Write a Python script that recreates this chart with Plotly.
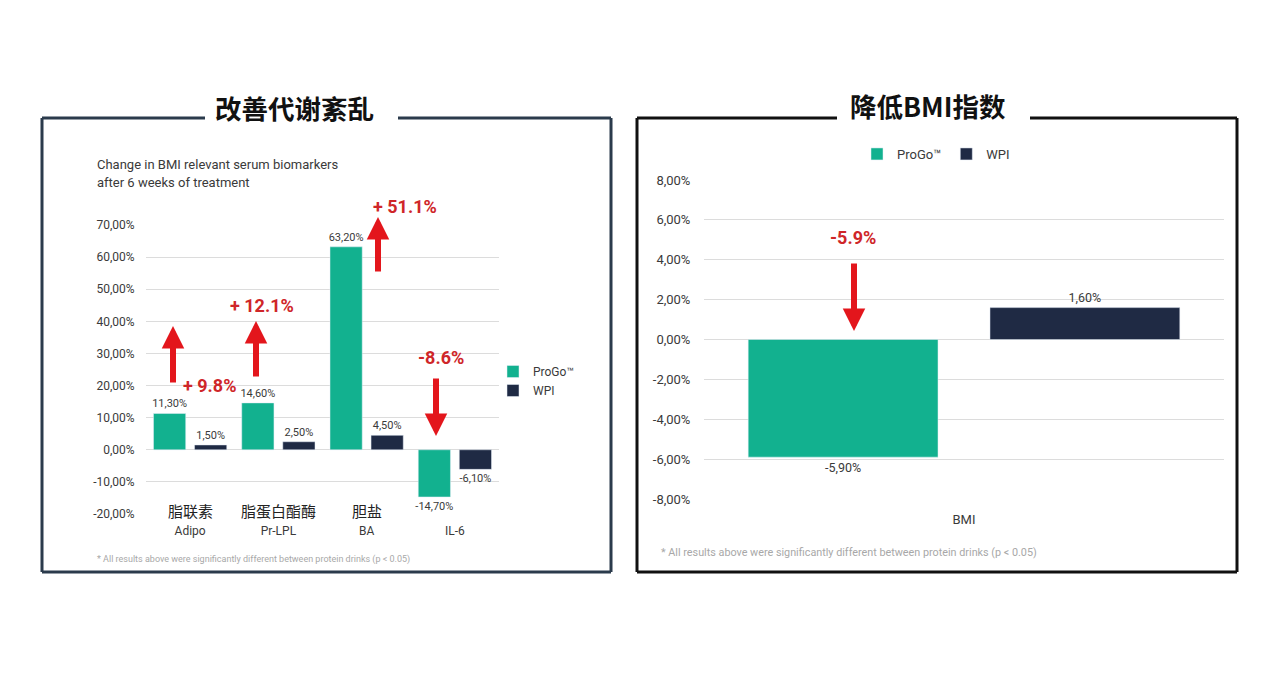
import plotly.graph_objects as go

# ---------------- data ----------------
left_categories = ["Adipo", "Pr-LPL", "BA", "IL-6"]
left_categories_cn = ["脂联素", "脂蛋白酯酶", "胆盐", ""]
left_progo = [11.3, 14.6, 63.2, -14.7]
left_wpi = [1.5, 2.5, 4.5, -6.1]
left_tickvals = [-20, -10, 0, 10, 20, 30, 40, 50, 60, 70]
left_ticktext = ["-20,00%", "-10,00%", "0,00%", "10,00%", "20,00%", "30,00%",
                 "40,00%", "50,00%", "60,00%", "70,00%"]
left_diffs = ["+ 9.8%", "+ 12.1%", "+ 51.1%", "-8.6%"]

right_categories = ["BMI"]
right_progo = [-5.9]
right_wpi = [1.6]
right_tickvals = [-8, -6, -4, -2, 0, 2, 4, 6, 8]
right_ticktext = ["-8,00%", "-6,00%", "-4,00%", "-2,00%", "0,00%", "2,00%",
                  "4,00%", "6,00%", "8,00%"]
right_diffs = ["-5.9%"]

series_names = ["ProGo™", "WPI"]
left_title = "改善代谢紊乱"
right_title = "降低BMI指数"
subtitle_lines = ["Change in BMI relevant serum biomarkers", "after 6 weeks of treatment"]
footnote = "* All results above were significantly different between protein drinks (p < 0.05)"

# ---------------- style ----------------
TEAL = "#12b18f"
NAVY = "#1f2a44"
RED_TXT = "#cf2629"
RED_ARR = "#e3161c"
GRID = "#dcdcdc"
TXT = "#3a3a3a"
W, H = 1280, 685
LATIN = "Roboto, 'Noto Sans', sans-serif"
CJK = "'Noto Sans CJK SC', sans-serif"


def fmt(v):
    return f"{v:.2f}".replace(".", ",") + "%"


def px(x):
    return x / W


def py(y):
    return 1 - y / H


fig = go.Figure()

fig.add_trace(go.Bar(x=left_categories, y=left_progo, name=series_names[0],
                     marker_color=TEAL, text=[fmt(v) for v in left_progo],
                     textposition="outside", cliponaxis=False, constraintext="none",
                     textfont=dict(size=11, color=TXT, family=LATIN),
                     xaxis="x", yaxis="y", legend="legend"))
fig.add_trace(go.Bar(x=left_categories, y=left_wpi, name=series_names[1],
                     marker_color=NAVY, text=[fmt(v) for v in left_wpi],
                     textposition="outside", cliponaxis=False, constraintext="none",
                     textfont=dict(size=11, color=TXT, family=LATIN),
                     xaxis="x", yaxis="y", legend="legend"))
fig.add_trace(go.Bar(x=right_categories, y=right_progo, name=series_names[0],
                     marker_color=TEAL, text=[fmt(v) for v in right_progo],
                     textposition="outside", cliponaxis=False, constraintext="none",
                     textfont=dict(size=12.5, color=TXT, family=LATIN),
                     xaxis="x2", yaxis="y2", legend="legend2"))
fig.add_trace(go.Bar(x=right_categories, y=right_wpi, name=series_names[1],
                     marker_color=NAVY, text=[fmt(v) for v in right_wpi],
                     textposition="outside", cliponaxis=False, constraintext="none",
                     textfont=dict(size=12.5, color=TXT, family=LATIN),
                     xaxis="x2", yaxis="y2", legend="legend2"))

fig.update_layout(
    width=W, height=H, margin=dict(l=0, r=0, t=0, b=0, pad=0, autoexpand=False),
    paper_bgcolor="white", plot_bgcolor="white",
    barmode="group", bargap=0.07, bargroupgap=0.215,
    font=dict(family=LATIN, color=TXT),
    xaxis=dict(domain=[px(146), px(499)], anchor="y", showgrid=False,
               ticks="outside", ticklen=6, tickcolor="rgba(0,0,0,0)",
               tickfont=dict(size=12, color=TXT), showline=False, automargin=False),
    yaxis=dict(domain=[py(514), py(225)], anchor="x", range=[-20, 70],
               tickvals=left_tickvals, ticktext=left_ticktext,
               tickfont=dict(size=12, color=TXT), gridcolor=GRID, gridwidth=1,
               zeroline=True, zerolinecolor=GRID, zerolinewidth=1,
               ticks="outside", ticklen=8, tickcolor="rgba(0,0,0,0)", automargin=False),
    xaxis2=dict(domain=[px(704), px(1224)], anchor="y2", showgrid=False,
                ticks="outside", ticklen=8, tickcolor="rgba(0,0,0,0)",
                tickfont=dict(size=13, color=TXT), automargin=False),
    yaxis2=dict(domain=[py(499), py(180)], anchor="x2", range=[-8, 8],
                tickvals=right_tickvals, ticktext=right_ticktext,
                tickfont=dict(size=13, color=TXT), gridcolor=GRID, gridwidth=1,
                zeroline=True, zerolinecolor=GRID, zerolinewidth=1,
                ticks="outside", ticklen=10, tickcolor="rgba(0,0,0,0)", automargin=False),
    legend=dict(x=px(493), y=py(357), xanchor="left", yanchor="top",
                orientation="v", font=dict(size=12, color=TXT),
                bgcolor="rgba(0,0,0,0)", itemwidth=30, tracegroupgap=0),
    legend2=dict(x=px(936), y=py(154), xanchor="center", yanchor="middle",
                 orientation="h", font=dict(size=13, color=TXT),
                 bgcolor="rgba(0,0,0,0)", itemwidth=30),
    showlegend=True,
)

shapes = []
# left frame
LC = "#2b3b4c"
for (x0, y0, x1, y1) in [(42, 118, 42, 572), (611, 118, 611, 572), (42, 572, 611, 572),
                         (42, 118, 205, 118), (398, 118, 611, 118)]:
    shapes.append(dict(type="line", xref="paper", yref="paper",
                       x0=px(x0), y0=py(y0), x1=px(x1), y1=py(y1),
                       line=dict(color=LC, width=3)))
# right frame
RC = "#111111"
for (x0, y0, x1, y1) in [(637, 118, 637, 572), (1237, 118, 1237, 572), (637, 572, 1237, 572),
                         (637, 118, 837, 118), (1030, 118, 1237, 118)]:
    shapes.append(dict(type="line", xref="paper", yref="paper",
                       x0=px(x0), y0=py(y0), x1=px(x1), y1=py(y1),
                       line=dict(color=RC, width=3)))
fig.update_layout(shapes=shapes)

ann = []
ann.append(dict(text=f"<b>{left_title}</b>", x=px(294), y=py(107), xref="paper", yref="paper",
                xanchor="center", yanchor="middle",
                showarrow=False, font=dict(family=CJK, size=26.5, color="#111")))
ann.append(dict(text=f"<b>{right_title}</b>", x=px(928), y=py(106), xref="paper", yref="paper",
                xanchor="center", yanchor="middle",
                showarrow=False, font=dict(family=CJK, size=26.5, color="#111")))
for i, line in enumerate(subtitle_lines):
    ann.append(dict(text=line, x=px(95), y=py(164 + 19 * i), xref="paper", yref="paper",
                    xanchor="left", yanchor="middle", showarrow=False,
                    font=dict(size=13, color=TXT)))
ann.append(dict(text=footnote, x=px(95), y=py(559), xref="paper", yref="paper",
                xanchor="left", yanchor="middle", showarrow=False,
                font=dict(size=9, color="#a8a8a8")))
ann.append(dict(text=footnote, x=px(659), y=py(552), xref="paper", yref="paper",
                xanchor="left", yanchor="middle", showarrow=False,
                font=dict(size=10.8, color="#a8a8a8")))
# chinese category labels
for c, cn in zip(left_categories, left_categories_cn):
    if cn:
        ann.append(dict(text=cn, x=c, y=py(510), xref="x", yref="paper",
                        showarrow=False, xanchor="center", yanchor="middle",
                        font=dict(family=CJK, size=15, color="#222")))

# red arrows (tip, tail) in pixels and labels
arrows = [((173, 326), (173, 384)), ((256, 321), (256, 378)),
          ((378, 217), (378, 273)), ((436, 436), (436, 377)),
          ((854, 331), (854, 262))]
label_pos = [(209, 385), (262, 306), (405, 206), (441, 357), (853, 238)]
for (tip, tail) in arrows:
    ann.append(dict(text="", x=px(tip[0]), y=py(tip[1]), xref="paper", yref="paper",
                    ax=tail[0] - tip[0], ay=tail[1] - tip[1], showarrow=True,
                    arrowhead=2, arrowwidth=6, arrowsize=0.75, arrowcolor=RED_ARR))
for t, (x, y) in zip(left_diffs + right_diffs, label_pos):
    ann.append(dict(text=f"<b>{t}</b>", x=px(x), y=py(y), xref="paper", yref="paper",
                    xanchor="center", yanchor="middle",
                    showarrow=False, font=dict(size=18, color=RED_TXT, family=LATIN)))
fig.update_layout(annotations=ann)

fig.write_html("out.html")
